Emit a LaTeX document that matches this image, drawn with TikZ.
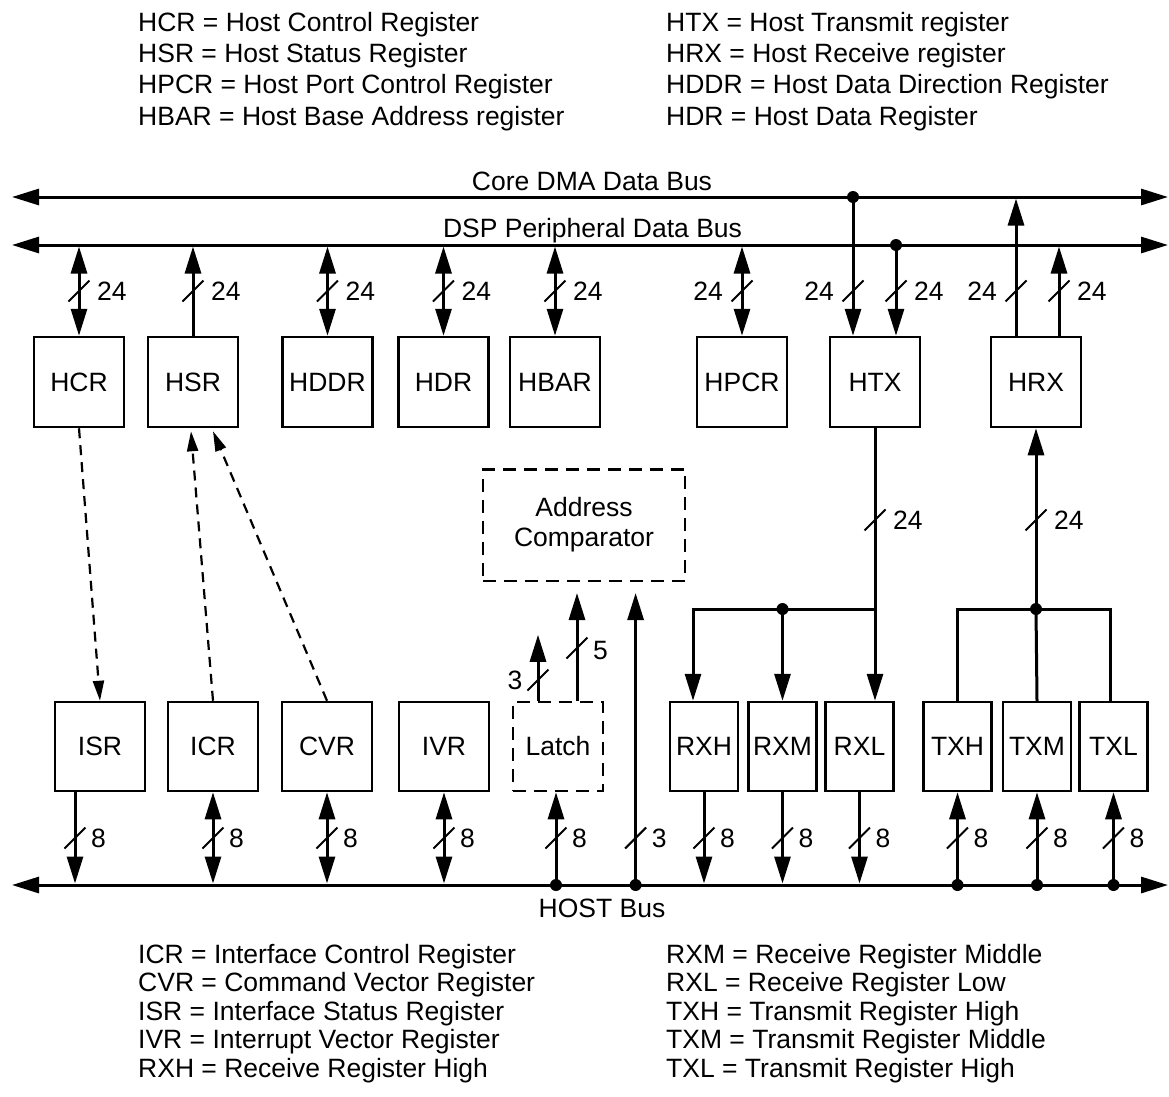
\documentclass[tikz,border=0pt]{standalone}
\usepackage{fontspec}
\setmainfont{Liberation Sans}
\usetikzlibrary{arrows.meta,calc}
\tikzset{
  >={Triangle[length=27pt,width=16pt]},
  every node/.style={font=\fontsize{26.5}{30}\selectfont, inner sep=0pt},
  reg/.style={draw, line width=2.5pt, minimum width=90pt, minimum height=90pt},
  breg/.style={reg, minimum height=89pt},
  sreg/.style={reg, minimum width=68pt, minimum height=89pt},
  dreg/.style={breg, dash pattern=on 13pt off 8pt},
  bus/.style={line width=3pt, <->},
  wire/.style={line width=3pt, line join=miter},
  dasharrow/.style={line width=2.2pt, dash pattern=on 10pt off 7pt, -{Triangle[length=20pt,width=11pt]}},
  dot/.style={circle, fill, minimum size=12pt, inner sep=0pt},
  busw/.pic={\draw[line width=2pt] (-10.5,10.5) -- (10.5,-10.5);}
}
\begin{document}
\begin{tikzpicture}[x=1pt,y=-1pt]
\useasboundingbox (0,0) rectangle (1169,1096);

% ---------- legends ----------
\node[anchor=base west] (lg1) at (138,31.5) {HCR = Host Control Register};
\node[anchor=base west] (lg2) at (138,62.7) {HSR = Host Status Register};
\node[anchor=base west] (lg3) at (138,93.9) {HPCR = Host Port Control Register};
\node[anchor=base west] (lg4) at (138,125.1) {HBAR = Host Base Address register};
\node[anchor=base west] (lg5) at (666,31.5) {HTX = Host Transmit register};
\node[anchor=base west] (lg6) at (666,62.7) {HRX = Host Receive register};
\node[anchor=base west] (lg7) at (666,93.9) {HDDR = Host Data Direction Register};
\node[anchor=base west] (lg8) at (666,125.1) {HDR = Host Data Register};

\node[anchor=base west] (lb1) at (138,963) {ICR = Interface Control Register};
\node[anchor=base west] (lb2) at (138,991.5) {CVR = Command Vector Register};
\node[anchor=base west] (lb3) at (138,1020) {ISR = Interface Status Register};
\node[anchor=base west] (lb4) at (138,1048.5) {IVR = Interrupt Vector Register};
\node[anchor=base west] (lb5) at (138,1077) {RXH = Receive Register High};
\node[anchor=base west] (lb6) at (666,963) {RXM = Receive Register Middle};
\node[anchor=base west] (lb7) at (666,991.5) {RXL = Receive Register Low};
\node[anchor=base west] (lb8) at (666,1020) {TXH = Transmit Register High};
\node[anchor=base west] (lb9) at (666,1048.5) {TXM = Transmit Register Middle};
\node[anchor=base west] (lb10) at (666,1077) {TXL = Transmit Register High};

% ---------- buses ----------
\coordinate (cdL) at (12,197);  \coordinate (cdR) at (1168,197);
\coordinate (dsL) at (12,245);  \coordinate (dsR) at (1168,245);
\coordinate (hbL) at (12,885);  \coordinate (hbR) at (1168,885);
\coordinate (cdE) at (0,198.5);
\coordinate (dsE) at (0,246.5);
\coordinate (hbE) at (0,883.5);
\draw[bus] (cdL) -- (cdR);
\draw[bus] (dsL) -- (dsR);
\draw[bus] (hbL) -- (hbR);
\node[anchor=base] (cdlab) at (592,190.5) {Core DMA Data Bus};
\node[anchor=base] (dslab) at (592.5,237.5) {DSP Peripheral Data Bus};
\node[anchor=base] (hblab) at (602,917) {HOST Bus};

% ---------- top registers ----------
\node[reg] (HCR)  at (79,382)    {HCR};
\node[reg] (HSR)  at (193,382)   {HSR};
\node[reg] (HDDR) at (327.5,382) {HDDR};
\node[reg] (HDR)  at (443.5,382) {HDR};
\node[reg] (HBAR) at (555,382)   {HBAR};
\node[reg] (HPCR) at (742,382)   {HPCR};
\node[reg] (HTX)  at (875,382)   {HTX};
\node[reg] (HRX)  at (1036,382)  {HRX};

% ---------- bottom registers ----------
\node[breg] (ISR)   at (100,746.5) {ISR};
\node[breg] (ICR)   at (213,746.5) {ICR};
\node[breg] (CVR)   at (327,746.5) {CVR};
\node[breg] (IVR)   at (444,746.5) {IVR};
\node[dreg] (Latch) at (558,746.5) {Latch};
\node[sreg] (RXH)   at (704,746.5) {RXH};
\node[sreg] (RXM)   at (782.5,746.5) {RXM};
\node[sreg] (RXL)   at (859.5,746.5) {RXL};
\node[sreg] (TXH)   at (957.5,746.5) {TXH};
\node[sreg] (TXM)   at (1037,746.5) {TXM};
\node[sreg] (TXL)   at (1113.5,746.5) {TXL};

\node[draw, line width=2.5pt, dash pattern=on 13pt off 8pt, minimum width=202pt, minimum height=111.5pt, align=center] (AC) at (584,525) {Address\\Comparator};

% ---------- top connections ----------
\draw[wire,<->] (HCR.north) -- (HCR.north |- dsE);
\draw[wire,->]  (HSR.north) -- (HSR.north |- dsE);
\draw[wire,<->] (HDDR.north) -- (HDDR.north |- dsE);
\draw[wire,<->] (HDR.north) -- (HDR.north |- dsE);
\draw[wire,<->] (HBAR.north) -- (HBAR.north |- dsE);
\draw[wire,<->] (HPCR.north) -- (HPCR.north |- dsE);

\coordinate (htxa) at ($(HTX.north)+(-22,0)$);
\coordinate (htxb) at ($(HTX.north)+(21,0)$);
\node[dot] (d1) at (htxa |- cdL) {};
\node[dot] (d2) at (htxb |- dsL) {};
\draw[wire,->] (d1.center) -- (htxa);
\draw[wire,->] (d2.center) -- (htxb);

\coordinate (hrxa) at ($(HRX.north)+(-20,0)$);
\coordinate (hrxb) at ($(HRX.north)+(23,0)$);
\draw[wire,->] (hrxa) -- (hrxa |- cdE);
\draw[wire,->] (hrxb) -- (hrxb |- dsE);

\foreach \x/\n in {79/a,193/b,327.5/c,443.5/d,555/e,896/f,1059/g} {
  \pic at (\x,291) {busw};
  \node[anchor=west] (tr\n) at (\x+18,291) {24};
}
\foreach \x/\n in {742/a,853/b,1016/c} {
  \pic at (\x,291) {busw};
  \node[anchor=east] (tl\n) at (\x-19,291) {24};
}

% ---------- dashed links ----------
\draw[dasharrow] (HCR.south) -- (ISR.north);
\draw[dasharrow] (ICR.north) -- ($(HSR.south)+(-2,3)$);
\draw[dasharrow] (CVR.north) -- ($(HSR.south)+(20,3)$);

% ---------- latch / address comparator ----------
\coordinate (lt3) at ($(Latch.north)+(-20,0)$);
\coordinate (lt5) at ($(Latch.north)+(19,0)$);
\coordinate (acT) at ($(AC.south)+(0,11)$);
\draw[wire,->] (lt3) -- ($(lt3)+(0,-66)$);
\draw[wire,->] (lt5) -- (lt5 |- acT);
\pic at (538,680) {busw};
\node[anchor=east] (l3) at (522.5,680) {3};
\pic at (577,648) {busw};
\node[anchor=west] (l5) at (593,650) {5};

% ---------- HTX -> RX registers ----------
\coordinate (rj1) at (693,609);
\coordinate (rj3) at (HTX.south |- rj1);
\draw[wire,->] (HTX.south) -- (HTX.south |- RXL.north);
\draw[wire,->] (rj3) -- (rj1) -- (rj1 |- RXH.north);
\node[dot] (d5) at (RXM.north |- rj1) {};
\draw[wire,->] (d5.center) -- (RXM.north);
\pic at (875,520) {busw};
\node[anchor=west] (lhtx) at (893,520) {24};

% ---------- TX registers -> HRX ----------
\node[dot] (d6) at (HRX.south |- rj1) {};
\draw[wire,->] (d6.center) -- (HRX.south);
\coordinate (tj3) at ($(TXL.north)+(-3.5,0)$);
\draw[wire] (TXH.north) -- (TXH.north |- rj1) -- (tj3 |- rj1) -- (tj3);
\draw[wire] (d6.center) -- (TXM.north);
\pic at (1036,520) {busw};
\node[anchor=west] (lhrx) at (1054,520) {24};

% ---------- HOST bus connections ----------
\coordinate (isra) at ($(ISR.south)+(-25,0)$);
\draw[wire,->]  (isra) -- (isra |- hbE);
\draw[wire,<->] (ICR.south) -- (ICR.south |- hbE);
\draw[wire,<->] (CVR.south) -- (CVR.south |- hbE);
\draw[wire,<->] (IVR.south) -- (IVR.south |- hbE);

\coordinate (lta) at ($(Latch.south)+(-2,0)$);
\node[dot] (d3) at (lta |- hbL) {};
\draw[wire,->] (d3.center) -- (lta);

\coordinate (acb) at (635.6,0);
\node[dot] (d4) at (acb |- hbL) {};
\draw[wire,->] (d4.center) -- (acb |- acT);

\draw[wire,->] (RXH.south) -- (RXH.south |- hbE);
\draw[wire,->] (RXM.south) -- (RXM.south |- hbE);
\draw[wire,->] (RXL.south) -- (RXL.south |- hbE);

\node[dot] (d7) at (TXH.south |- hbL) {};
\node[dot] (d8) at (TXM.south |- hbL) {};
\node[dot] (d9) at (TXL.south |- hbL) {};
\draw[wire,->] (d7.center) -- (TXH.south);
\draw[wire,->] (d8.center) -- (TXM.south);
\draw[wire,->] (d9.center) -- (TXL.south);

\foreach \x/\n/\t in {75/a/8,213/b/8,327/c/8,444/d/8,556/e/8,635.6/f/3,704/g/8,782.5/h/8,859.5/i/8,957.5/j/8,1037/k/8,1113.5/l/8} {
  \pic at (\x,838) {busw};
  \node[anchor=west] (b\n) at (\x+16,838) {\t};
}
\end{tikzpicture}
\end{document}
